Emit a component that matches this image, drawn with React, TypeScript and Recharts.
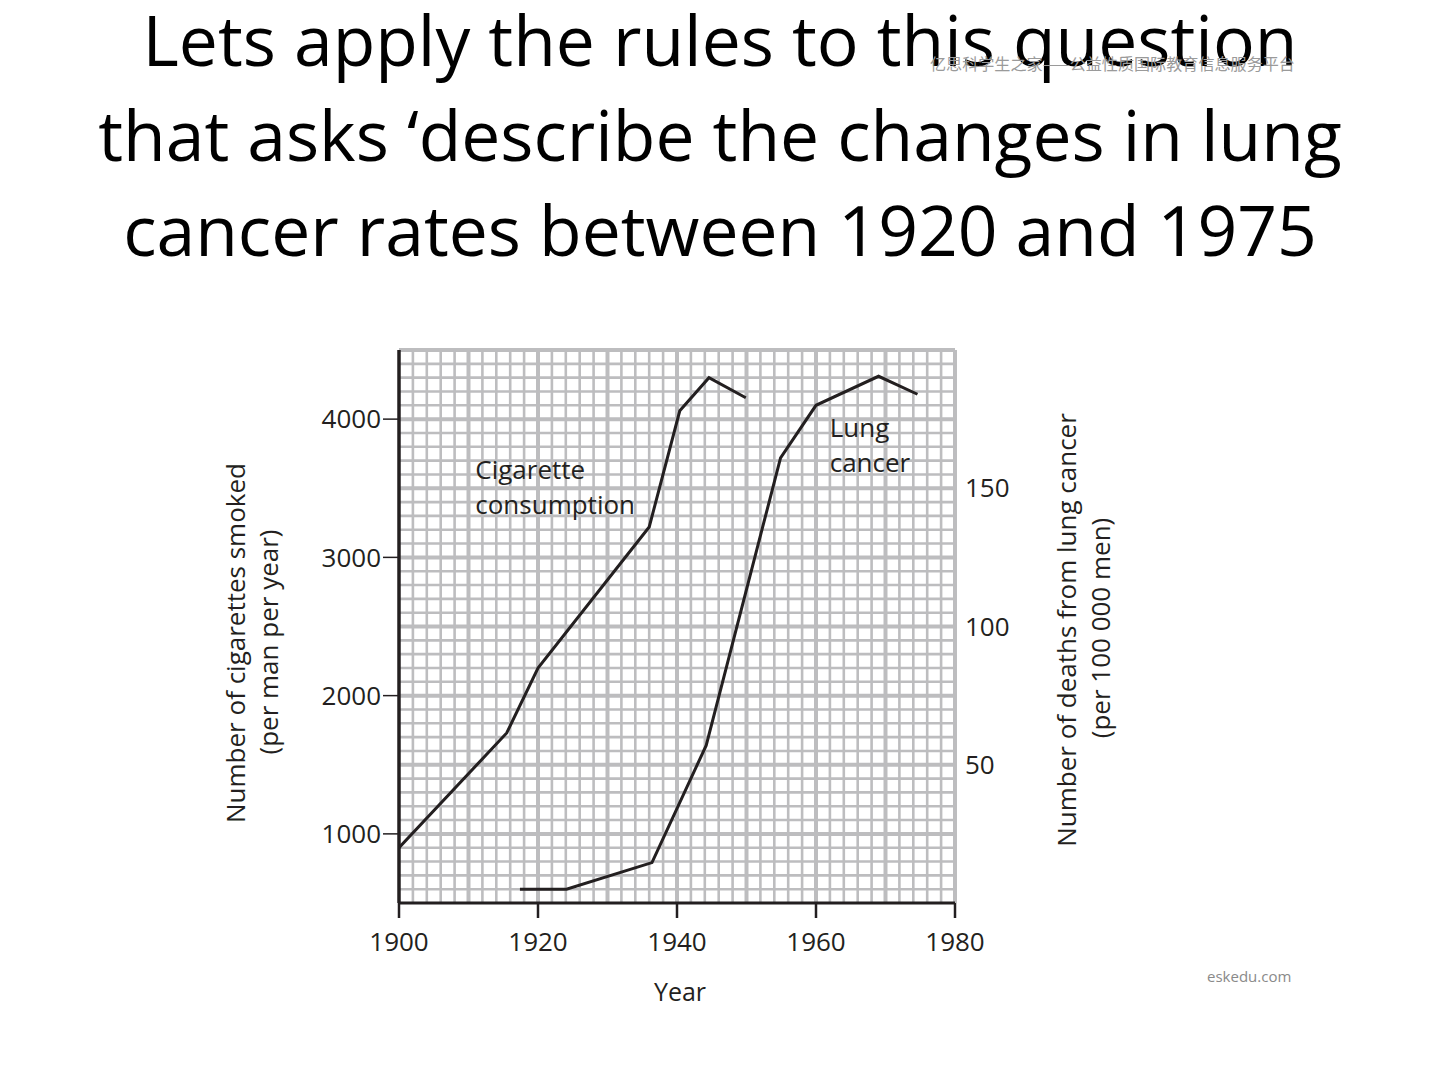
import React from 'react';
import { LineChart, Line, XAxis, YAxis, ReferenceLine, ReferenceArea } from 'recharts';

const titleLines = [
  'Lets apply the rules to this question',
  'that asks \u2018describe the changes in lung',
  'cancer rates between 1920 and 1975',
];

const cigYears = [1900, 1915.5, 1920, 1936, 1940.4, 1944.6, 1949.9];
const cigValues = [900, 1730, 2200, 3220, 4060, 4300, 4155];

const lungYears = [1917.4, 1924.1, 1936.4, 1944.2, 1954.9, 1960, 1969, 1974.6];
const lungValues = [5, 5, 14.6, 57, 161, 180, 190.5, 184];

const xTicks = [1900, 1920, 1940, 1960, 1980];
const leftTicks = [1000, 2000, 3000, 4000];
const rightTicks = [50, 100, 150];

const cigData = cigYears.map((year, i) => ({ year, v: cigValues[i] }));
const lungData = lungYears.map((year, i) => ({ year, v: lungValues[i] }));

// grid line positions (graph paper)
const gridX: number[] = [];
for (let yr = 1902; yr <= 1980; yr += 2) gridX.push(yr);
const gridY: number[] = [];
for (let c = 600; c <= 4500; c += 100) gridY.push(c);

const notes = [
  { text: 'Cigarette', x1: 1910.4, x2: 1928.6, y1: 3509, y2: 3762 },
  { text: 'consumption', x1: 1910.4, x2: 1934.9, y1: 3256, y2: 3509 },
  { text: 'Lung', x1: 1961.4, x2: 1971.1, y1: 3819, y2: 4058 },
  { text: 'cancer', x1: 1961.4, x2: 1974.3, y1: 3560, y2: 3805 },
];

const INK = '#231f20';
const GRID = '#bdbdbf';
const FONT = '"Open Sans", sans-serif';

export default function App() {
  return (
    <div style={{ position: 'absolute', left: 0, top: 0, width: 1440, height: 1080, background: '#fff', fontFamily: FONT, overflow: 'hidden' }}>
      {titleLines.map((t, i) => (
        <div
          key={t}
          style={{ position: 'absolute', left: 0, top: 4 + 95 * i, width: 1440, textAlign: 'center', fontSize: 69.6, lineHeight: '70px', color: '#000', whiteSpace: 'nowrap' }}
        >
          {t}
        </div>
      ))}
      <div style={{ position: 'absolute', left: 930, top: 52, fontFamily: '"Noto Sans CJK SC", sans-serif', fontSize: 16.1, color: '#9a9a9a', whiteSpace: 'nowrap', lineHeight: '22px' }}>
        亿思科学生之家——公益性质国际教育信息服务平台
      </div>
      <div style={{ position: 'absolute', left: 0, top: 0 }}>
        <LineChart width={1440} height={1080} margin={{ top: 350, right: 405, bottom: 117, left: 319 }}>
          <XAxis
            dataKey="year"
            type="number"
            domain={[1900, 1980]}
            ticks={xTicks}
            allowDataOverflow
            height={60}
            axisLine={false}
            tickSize={15}
            tickMargin={15}
            tickLine={{ stroke: INK, strokeWidth: 2.5 }}
            tick={{ fill: INK, fontSize: 26, fontFamily: FONT }}
          />
          <YAxis
            yAxisId="left"
            domain={[500, 4500]}
            ticks={leftTicks}
            allowDataOverflow
            width={80}
            axisLine={false}
            tickSize={16}
            tickMargin={2}
            tickLine={{ stroke: INK, strokeWidth: 1.5 }}
            tick={{ fill: INK, fontSize: 26, fontFamily: FONT }}
          />
          <YAxis
            yAxisId="right"
            orientation="right"
            domain={[0, 200]}
            ticks={rightTicks}
            allowDataOverflow
            width={80}
            axisLine={false}
            tickLine={false}
            tickSize={0}
            tickMargin={10}
            tick={{ fill: INK, fontSize: 26, fontFamily: FONT, textAnchor: 'start' }}
          />
          {gridY.map((v) => (
            <ReferenceLine key={'gy' + v} yAxisId="left" y={v} stroke={GRID} strokeWidth={v % 500 === 0 ? 4 : 2.6} />
          ))}
          {gridX.map((v) => (
            <ReferenceLine key={'gx' + v} yAxisId="left" x={v} stroke={GRID} strokeWidth={v % 10 === 0 ? 4 : 2.6} />
          ))}
          {notes.map((n) => (
            <ReferenceArea
              key={n.text}
              yAxisId="left"
              x1={n.x1}
              x2={n.x2}
              y1={n.y1}
              y2={n.y2}
              fill="#fff"
              fillOpacity={1}
              stroke="none"
              label={{ value: n.text, position: 'insideLeft', offset: 4, fill: INK, fontSize: 26, fontFamily: FONT }}
            />
          ))}
          <ReferenceLine yAxisId="left" x={1900} stroke={INK} strokeWidth={3.5} />
          <ReferenceLine yAxisId="left" y={500} stroke={INK} strokeWidth={3} />
          <Line data={cigData} dataKey="v" yAxisId="left" type="linear" stroke={INK} strokeWidth={3} dot={false} isAnimationActive={false} />
          <Line data={lungData} dataKey="v" yAxisId="right" type="linear" stroke={INK} strokeWidth={3} dot={false} isAnimationActive={false} />
        </LineChart>
      </div>
      <div style={{ position: 'absolute', left: 235, top: 643, transform: 'translate(-50%, -50%) rotate(-90deg)', fontSize: 26, color: INK, whiteSpace: 'nowrap' }}>
        Number of cigarettes smoked
      </div>
      <div style={{ position: 'absolute', left: 268, top: 642, transform: 'translate(-50%, -50%) rotate(-90deg)', fontSize: 26, color: INK, whiteSpace: 'nowrap' }}>
        (per man per year)
      </div>
      <div style={{ position: 'absolute', left: 1066, top: 630, transform: 'translate(-50%, -50%) rotate(-90deg)', fontSize: 26, color: INK, whiteSpace: 'nowrap' }}>
        Number of deaths from lung cancer
      </div>
      <div style={{ position: 'absolute', left: 1100, top: 628, transform: 'translate(-50%, -50%) rotate(-90deg)', fontSize: 26, color: INK, whiteSpace: 'nowrap' }}>
        (per 100 000 men)
      </div>
      <div style={{ position: 'absolute', left: 680, top: 991, transform: 'translate(-50%, -50%)', fontSize: 25, color: INK, whiteSpace: 'nowrap' }}>
        Year
      </div>
      <div style={{ position: 'absolute', left: 1207, top: 966, fontSize: 15, color: '#8a8a8a', whiteSpace: 'nowrap', lineHeight: '20px' }}>
        eskedu.com
      </div>
    </div>
  );
}
